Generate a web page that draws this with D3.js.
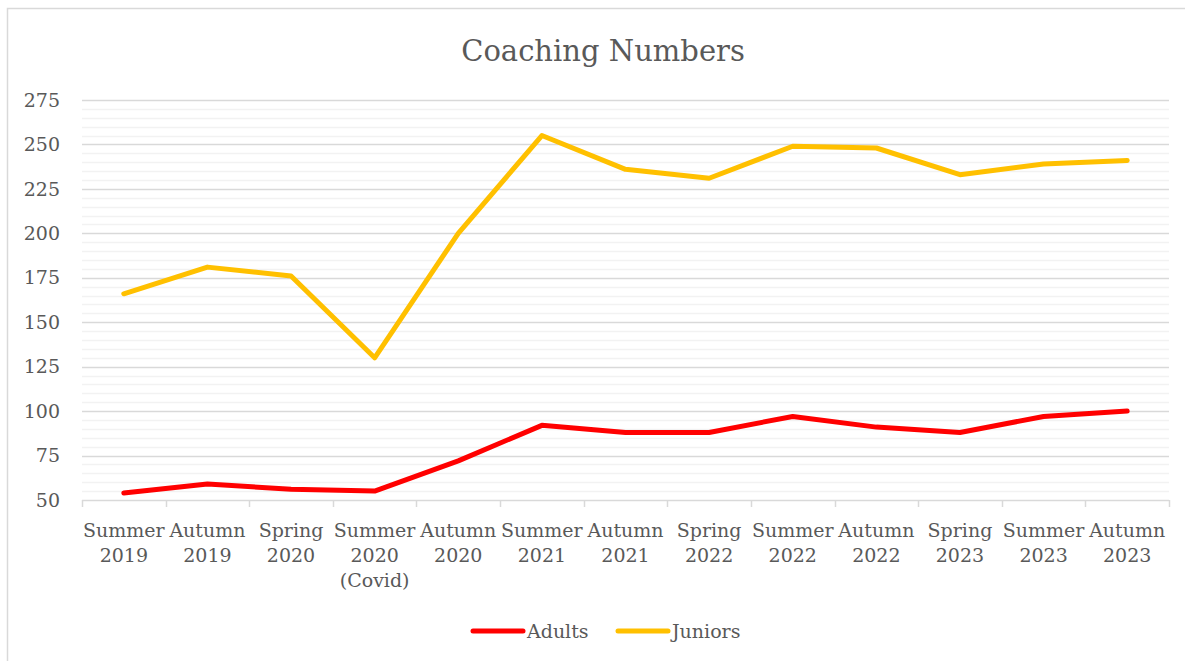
<!DOCTYPE html>
<html>
<head>
<meta charset="utf-8">
<script src="https://cdn.jsdelivr.net/npm/d3@7"></script>
<style>
  body { margin: 0; background: #fff; }
  svg text { font-family: "DejaVu Serif", serif; fill: #595959; }
</style>
</head>
<body>
<div id="chart"></div>
<script>

const categories = [
    ["Summer", "2019"], ["Autumn", "2019"], ["Spring", "2020"], ["Summer", "2020", "(Covid)"],
    ["Autumn", "2020"], ["Summer", "2021"], ["Autumn", "2021"], ["Spring", "2022"],
    ["Summer", "2022"], ["Autumn", "2022"], ["Spring", "2023"], ["Summer", "2023"], ["Autumn", "2023"]
]

const adults = [54, 59, 56, 55, 72, 92, 88, 88, 97, 91, 88, 97, 100]

const juniors = [166, 181, 176, 130, 200, 255, 236, 231, 249, 248, 233, 239, 241]

const yTicks = [50, 75, 100, 125, 150, 175, 200, 225, 250, 275]

const series = [
    { name: "Adults", values: adults, colour: "#ff0000" },
    { name: "Juniors", values: juniors, colour: "#ffc000" }
]

var width = 1185, height = 661
var margin = { left: 82, right: 16, top: 100, bottom: 161 }

var svg = d3.select("#chart").append("svg")
    .attr("width", width)
    .attr("height", height)

// chart frame
svg.append("rect")
    .attr("x", 7.5).attr("y", 8.5)
    .attr("width", width).attr("height", height)
    .attr("fill", "none")
    .attr("stroke", "#d9d9d9")
    .attr("stroke-width", 1.5)

svg.append("text")
    .attr("x", 603).attr("y", 61)
    .attr("text-anchor", "middle")
    .attr("font-size", 29)
    .text("Coaching Numbers")

var x = d3.scaleBand()
    .domain(d3.range(categories.length))
    .range([margin.left, width - margin.right])

var y = d3.scaleLinear()
    .domain([50, 275])
    .range([height - margin.bottom, margin.top])

// minor gridlines
svg.append("g").selectAll("line")
    .data(d3.range(55, 276, 5).filter(d => d % 25 != 0))
    .join("line")
    .attr("x1", margin.left).attr("x2", width - margin.right)
    .attr("y1", d => Math.round(y(d)) + 0.5).attr("y2", d => Math.round(y(d)) + 0.5)
    .attr("stroke", "#f2f2f2")
    .attr("stroke-width", 1.5)

// major gridlines
svg.append("g").selectAll("line")
    .data(yTicks)
    .join("line")
    .attr("x1", margin.left).attr("x2", width - margin.right)
    .attr("y1", d => Math.round(y(d)) + 0.5).attr("y2", d => Math.round(y(d)) + 0.5)
    .attr("stroke", "#d9d9d9")
    .attr("stroke-width", 1.5)

// y labels
svg.append("g").selectAll("text")
    .data(yTicks)
    .join("text")
    .attr("x", 60)
    .attr("y", d => y(d))
    .attr("dy", "0.35em")
    .attr("text-anchor", "end")
    .attr("font-size", 19)
    .text(d => d)

// x tick marks at category boundaries
var bounds = d3.range(categories.length + 1).map(i => margin.left + i * x.step())
svg.append("g").selectAll("line")
    .data(bounds)
    .join("line")
    .attr("x1", d => Math.round(d) + 0.5).attr("x2", d => Math.round(d) + 0.5)
    .attr("y1", y(50)).attr("y2", y(50) + 7)
    .attr("stroke", "#d9d9d9")
    .attr("stroke-width", 1.5)

// x labels
var xl = svg.append("g").selectAll("text")
    .data(categories)
    .join("text")
    .attr("text-anchor", "middle")
    .attr("font-size", 19)
    .attr("x", (d, i) => x(i) + x.bandwidth() / 2)
    .attr("y", 537)

xl.selectAll("tspan")
    .data(d => d)
    .join("tspan")
    .attr("x", function() { return this.parentNode.getAttribute("x") })
    .attr("dy", (d, i) => i == 0 ? 0 : 25)
    .text(d => d)

var line = d3.line()
    .x((d, i) => x(i) + x.bandwidth() / 2)
    .y(d => y(d))

svg.append("g").selectAll("path")
    .data(series)
    .join("path")
    .attr("d", d => line(d.values))
    .attr("fill", "none")
    .attr("stroke", d => d.colour)
    .attr("stroke-width", 5)
    .attr("stroke-linejoin", "round")
    .attr("stroke-linecap", "round")

// legend
var legendX = [473, 618]
var lg = svg.append("g").selectAll("g")
    .data(series)
    .join("g")
    .attr("transform", (d, i) => `translate(${legendX[i]},631)`)

lg.append("line")
    .attr("x1", 0).attr("x2", 50)
    .attr("stroke", d => d.colour)
    .attr("stroke-width", 5)
    .attr("stroke-linecap", "round")

lg.append("text")
    .attr("x", 54)
    .attr("dy", "0.35em")
    .attr("font-size", 19)
    .text(d => d.name)

</script>
</body>
</html>
